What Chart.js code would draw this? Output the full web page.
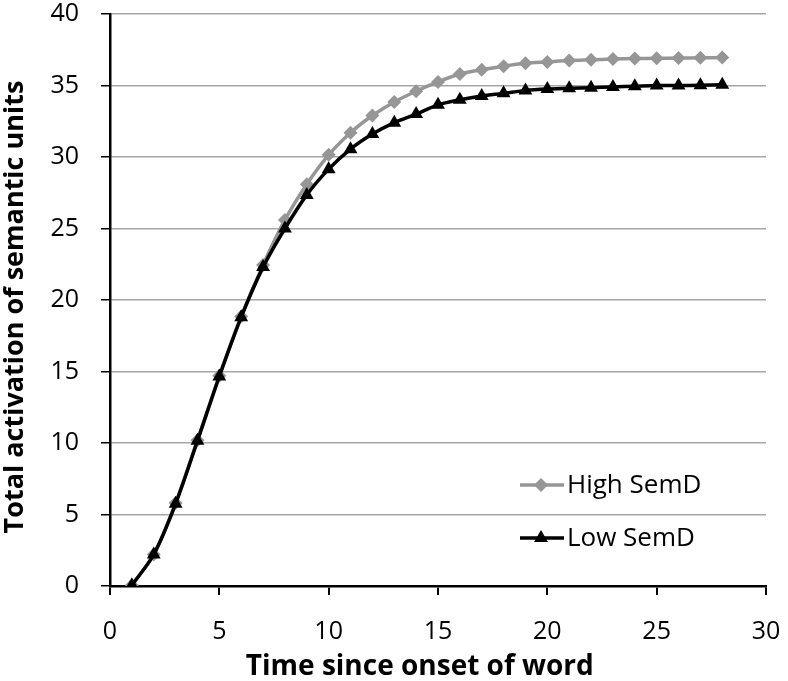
<!DOCTYPE html>
<html>
<head>
<meta charset="utf-8">
<script src="https://cdn.jsdelivr.net/npm/chart.js@4/dist/chart.umd.min.js"></script>
<style>
  html, body { margin: 0; padding: 0; background: #fff; }
  #wrap { width: 788px; height: 681px; }
</style>
</head>
<body>
<div id="wrap"><canvas id="semChart" width="788" height="681"></canvas></div>
<script>
// Data
const timeSteps = [1, 2, 3, 4, 5, 6, 7, 8, 9, 10, 11, 12, 13, 14, 15, 16, 17, 18, 19, 20, 21, 22, 23, 24, 25, 26, 27, 28];
const highSemD = [0.05, 2.2, 5.8, 10.2, 14.7, 18.85, 22.45, 25.6, 28.1, 30.15, 31.7, 32.9, 33.85, 34.6, 35.25, 35.8, 36.1, 36.35, 36.55, 36.65, 36.75, 36.8, 36.85, 36.88, 36.9, 36.92, 36.94, 36.95];
const lowSemD = [0.05, 2.2, 5.75, 10.15, 14.65, 18.8, 22.3, 25.0, 27.35, 29.15, 30.55, 31.6, 32.4, 33.0, 33.65, 34.0, 34.27, 34.45, 34.65, 34.75, 34.8, 34.85, 34.9, 34.95, 35.0, 35.0, 35.02, 35.05];
const seriesNames = ["High SemD", "Low SemD"];
const xTicks = [0, 5, 10, 15, 20, 25, 30];
const yTicks = [0, 5, 10, 15, 20, 25, 30, 35, 40];

const FONT = "'Open Sans', 'DejaVu Sans', sans-serif";
const GREY = "#969696";

// legend drawn inside the plot, bottom right
const insideLegend = {
  id: "insideLegend",
  afterDraw(chart) {
    const ctx = chart.ctx;
    const rows = [
      { ds: chart.data.datasets[0], y: 485 },
      { ds: chart.data.datasets[1], y: 538 },
    ];
    ctx.save();
    rows.forEach((r) => {
      ctx.strokeStyle = r.ds.borderColor;
      ctx.lineWidth = r.ds.borderWidth;
      ctx.beginPath();
      ctx.moveTo(520, r.y);
      ctx.lineTo(564, r.y);
      ctx.stroke();
      ctx.fillStyle = r.ds.pointBackgroundColor;
      Chart.helpers.drawPoint(ctx, {
        pointStyle: r.ds.pointStyle,
        radius: r.ds.pointRadius,
        borderWidth: 0,
      }, 541, r.y);
      ctx.fillStyle = "#000";
      ctx.font = "26px " + FONT;
      ctx.textBaseline = "middle";
      ctx.fillText(r.ds.label, 567, r.y + 1);
    });
    ctx.restore();
  },
};

const semCtx = document.getElementById("semChart").getContext("2d");
const semChart = new Chart(semCtx, {
  type: "line",
  data: {
    datasets: [
      {
        label: seriesNames[0],
        data: timeSteps.map((t, i) => ({ x: t, y: highSemD[i] })),
        borderColor: GREY,
        backgroundColor: GREY,
        pointBackgroundColor: GREY,
        pointBorderWidth: 0,
        borderWidth: 3.5,
        pointStyle: "rectRot",
        pointRadius: 7,
        tension: 0.3,
        order: 2,
      },
      {
        label: seriesNames[1],
        data: timeSteps.map((t, i) => ({ x: t, y: lowSemD[i] })),
        borderColor: "#000",
        backgroundColor: "#000",
        pointBackgroundColor: "#000",
        pointBorderWidth: 0,
        borderWidth: 3.5,
        pointStyle: "triangle",
        pointRadius: 8,
        tension: 0.3,
        order: 1,
      },
    ],
  },
  options: {
    responsive: false,
    animation: false,
    devicePixelRatio: 1,
    layout: { padding: { top: 14, right: 22, left: 0, bottom: 0 } },
    plugins: {
      legend: { display: false },
      tooltip: { enabled: false },
    },
    scales: {
      x: {
        type: "linear",
        min: 0,
        max: 30,
        afterBuildTicks: (s) => { s.ticks = xTicks.map((v) => ({ value: v })); },
        afterFit: (s) => { s.height = 95; s.paddingLeft = 0; s.paddingRight = 0; },
        border: { color: "#000", width: 2.5 },
        grid: { drawOnChartArea: false, tickColor: "#000", tickLength: 9, lineWidth: 2 },
        ticks: { color: "#000", font: { family: FONT, size: 25, lineHeight: 1 }, padding: 24 },
        title: {
          display: true,
          text: "Time since onset of word     ",
          color: "#000",
          font: { family: FONT, size: 28, weight: "bold", lineHeight: 1 },
          padding: { top: 0, bottom: 0 },
        },
      },
      y: {
        min: 0,
        max: 40,
        afterBuildTicks: (s) => { s.ticks = yTicks.map((v) => ({ value: v })); },
        afterFit: (s) => { s.width = 110; s.paddingTop = 0; s.paddingBottom = 0; },
        border: { color: "#000", width: 2.5 },
        grid: { color: "#a6a6a6", lineWidth: 1.5, tickColor: "#000", tickLength: 9 },
        ticks: { color: "#000", font: { family: FONT, size: 25, lineHeight: 1 }, padding: 22 },
        title: {
          display: true,
          text: "Total activation of semantic units  ",
          color: "#000",
          font: { family: FONT, size: 27, weight: "bold", lineHeight: 1 },
          padding: { top: 2, bottom: 0 },
        },
      },
    },
  },
  plugins: [insideLegend],
});
</script>
</body>
</html>
